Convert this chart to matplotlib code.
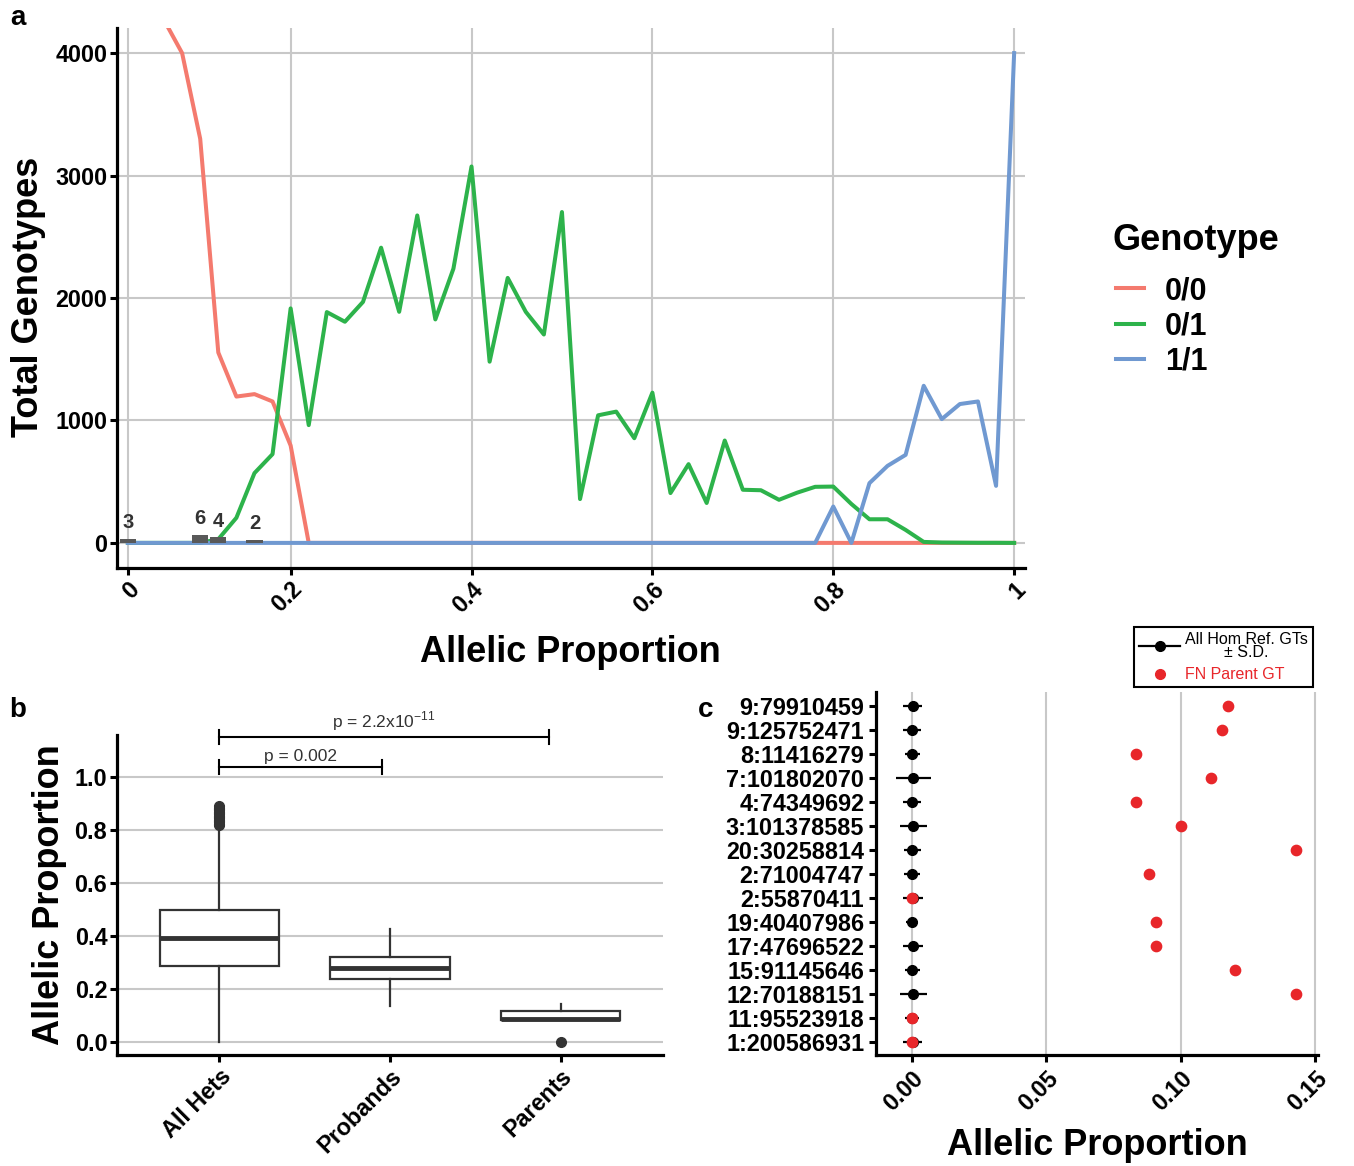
import numpy as np
import matplotlib
matplotlib.use('Agg')
import matplotlib.pyplot as plt
from matplotlib.lines import Line2D

plt.rcParams['font.family'] = ['Liberation Sans', 'DejaVu Sans']
plt.rcParams['font.weight'] = 'bold'
plt.rcParams['axes.labelweight'] = 'bold'

# ---- panel a data (allelic proportion bins, discrete axis) ----
props = [0, 0.04, 0.06, 0.08, 0.10, 0.12, 0.14, 0.16, 0.18, 0.20,
         0.22, 0.24, 0.26, 0.28, 0.30, 0.32, 0.34, 0.36, 0.38, 0.40,
         0.42, 0.44, 0.46, 0.48, 0.50, 0.52, 0.54, 0.56, 0.58, 0.60,
         0.62, 0.64, 0.66, 0.68, 0.70, 0.72, 0.74, 0.76, 0.78, 0.80,
         0.82, 0.84, 0.86, 0.88, 0.90, 0.92, 0.94, 0.96, 0.98, 1.00]
tick_props = [0, 0.2, 0.4, 0.6, 0.8, 1.0]
tick_names = ['0', '0.2', '0.4', '0.6', '0.8', '1']

gt_00 = [250000, 9000, 4270, 4000, 3300, 1555, 1195, 1215, 1155, 795,
         0, 0, 0, 0, 0, 0, 0, 0, 0, 0,
         0, 0, 0, 0, 0, 0, 0, 0, 0, 0,
         0, 0, 0, 0, 0, 0, 0, 0, 0, 0,
         0, 0, 0, 0, 0, 0, 0, 0, 0, 0]
gt_01 = [0, 0, 0, 0, 0, 30, 205, 570, 725, 1915,
         962, 1885, 1806, 1968, 2411, 1887, 2674, 1825, 2240, 3074,
         1480, 2164, 1887, 1702, 2702, 358, 1042, 1072, 855, 1227,
         407, 643, 326, 836, 434, 430, 352, 410, 458, 460,
         318, 193, 193, 106, 8, 3, 2, 1, 1, 0]
gt_11 = [0, 0, 0, 0, 0, 0, 0, 0, 0, 0,
         0, 0, 0, 0, 0, 0, 0, 0, 0, 0,
         0, 0, 0, 0, 0, 0, 0, 0, 0, 0,
         0, 0, 0, 0, 0, 0, 0, 0, 0, 297,
         0, 488, 629, 719, 1283, 1011, 1134, 1155, 466, 4000]

bar_props = [0, 0.10, 0.12, 0.16]
bar_heights = [35, 65, 45, 22]
bar_labels = ['3', '6', '4', '2']

# ---- panel b data ----
groups = ['All Hets', 'Probands', 'Parents']
box_q1 = [0.287, 0.239, 0.082]
box_med = [0.391, 0.280, 0.088]
box_q3 = [0.499, 0.322, 0.116]
box_lo = [0.0, 0.135, 0.082]
box_hi = [0.815, 0.427, 0.141]
fliers_hets = [0.82, 0.825, 0.83, 0.835, 0.84, 0.845, 0.85, 0.855, 0.86,
               0.865, 0.87, 0.875, 0.88, 0.885, 0.89]
fliers_parents = [0.0]
pvals = ['p = 0.002', 'p = 2.2x10$^{\\mathregular{-11}}$']
bracket_end = [0.955, 1.93]
bracket_y = [1.038, 1.153]

# ---- panel c data ----
sites = ['1:200586931', '11:95523918', '12:70188151', '15:91145646',
         '17:47696522', '19:40407986', '2:55870411', '2:71004747',
         '20:30258814', '3:101378585', '4:74349692', '7:101802070',
         '8:11416279', '9:125752471', '9:79910459']
hom_mean = [0.0002, 0.0001, 0.0004, 0.0001, 0.0003, 0.0, 0.0003, 0.0001,
            0.0001, 0.0004, 0.0001, 0.0004, 0.0001, 0.0001, 0.0002]
hom_sd = [0.0036, 0.0026, 0.0050, 0.0028, 0.0038, 0.0022, 0.0038, 0.0029,
          0.0032, 0.0050, 0.0033, 0.0065, 0.0028, 0.0033, 0.0036]
fn_parent = [0.0, 0.0, 0.1428, 0.120, 0.0909, 0.0909, 0.0, 0.0881,
             0.1428, 0.0999, 0.0832, 0.1111, 0.0832, 0.1153, 0.1177]

red = '#F47A6E'
green = '#2DB34B'
blue = '#7099D1'
grid_c = '#C8C8C8'
dark = '#333333'
fn_red = '#E8262A'

W, H = 1354, 1166
fig = plt.figure(figsize=(W / 100, H / 100), dpi=100)


def style_axes(ax, pad=2):
    for s in ['top', 'right']:
        ax.spines[s].set_visible(False)
    for s in ['left', 'bottom']:
        ax.spines[s].set_linewidth(2.3)
        ax.spines[s].set_color('black')
    ax.tick_params(width=2.2, length=5, color='black', labelsize=16.8, pad=pad,
                   labelcolor='black')
    ax.set_axisbelow(True)


def rotate_xlabels(ax):
    for lab in ax.get_xticklabels():
        lab.set_rotation(45)
        lab.set_ha('right')
        lab.set_va('top')
        lab.set_rotation_mode('anchor')


# ================= panel a =================
ax = fig.add_axes([117 / W, 1 - 568 / H, 908 / W, 540 / H])
style_axes(ax)
idx = {p: i for i, p in enumerate(props)}
xi = np.arange(len(props))
ax.plot(xi, gt_00, color=red, lw=2.9, label='0/0', zorder=3)
ax.plot(xi, gt_01, color=green, lw=2.9, label='0/1', zorder=3)
ax.plot(xi, gt_11, color=blue, lw=2.9, label='1/1', zorder=3)
bx = [idx[p] for p in bar_props]
ax.bar(bx, bar_heights, width=0.9, color='#595959', zorder=4)
for x, h, t in zip(bx, bar_heights, bar_labels):
    ax.text(x, h + 55, t, ha='center', va='bottom', fontsize=14.5,
            color=dark, zorder=5)
ax.set_xlim(-0.6, len(props) - 0.4)
ax.set_ylim(-205, 4205)
ax.set_yticks([0, 1000, 2000, 3000, 4000])
ax.set_xticks([idx[p] for p in tick_props])
ax.set_xticklabels(tick_names)
rotate_xlabels(ax)
ax.grid(True, color=grid_c, lw=1.5)
ax.set_xlabel('Allelic Proportion', fontsize=26)
ax.xaxis.label.set_va('center')
ax.xaxis.set_label_coords(0.499, -0.156)
ax.set_ylabel('Total Genotypes', fontsize=26)
ax.yaxis.label.set_va('center')
ax.yaxis.set_label_coords(-0.097, 0.502)
fig.text(1113 / W, 1 - 240 / H, 'Genotype', fontsize=26, ha='left',
         va='center')
leg = ax.legend(loc='upper left',
                bbox_to_anchor=(1116 / W, 1 - 276 / H),
                bbox_transform=fig.transFigure, frameon=False,
                fontsize=22, handlelength=0.9,
                handletextpad=0.7, labelspacing=0.17,
                borderaxespad=0, borderpad=0)

# ================= panel b =================
ax = fig.add_axes([117 / W, 1 - 1055 / H, 546 / W, 320 / H])
style_axes(ax)
stats = []
for i in range(3):
    fl = fliers_hets if i == 0 else (fliers_parents if i == 2 else [])
    stats.append(dict(q1=box_q1[i], med=box_med[i], q3=box_q3[i],
                      whislo=box_lo[i], whishi=box_hi[i], fliers=fl,
                      label=groups[i]))
ax.bxp(stats, positions=[0, 1, 2], widths=0.7, patch_artist=True,
       showcaps=False,
       boxprops=dict(facecolor='white', edgecolor=dark, lw=1.6),
       medianprops=dict(color=dark, lw=3.5),
       whiskerprops=dict(color=dark, lw=1.6),
       flierprops=dict(marker='o', mfc=dark, mec=dark, ms=7))
for xe, yb, t in zip(bracket_end, bracket_y, pvals):
    ax.plot([0, xe], [yb, yb], color='black', lw=1.5, clip_on=False)
    ax.plot([0, 0], [yb - 0.027, yb + 0.027], color='black', lw=1.5,
            clip_on=False)
    ax.plot([xe, xe], [yb - 0.027, yb + 0.027], color='black', lw=1.5,
            clip_on=False)
    ax.text(xe / 2, yb + 0.013, t, ha='center', va='bottom', fontsize=12.5,
            fontweight='normal', color=dark, clip_on=False)
ax.set_xlim(-0.6, 2.6)
ax.set_ylim(-0.05, 1.16)
ax.set_yticks([0, 0.2, 0.4, 0.6, 0.8, 1.0])
ax.set_yticklabels(['0.0', '0.2', '0.4', '0.6', '0.8', '1.0'])
ax.set_xticks([0, 1, 2])
ax.set_xticklabels(groups)
rotate_xlabels(ax)
ax.grid(True, axis='y', color=grid_c, lw=1.5)
ax.set_ylabel('Allelic Proportion', fontsize=26)
ax.yaxis.label.set_va('center')
ax.yaxis.set_label_coords(-0.124, 0.5)

# ================= panel c =================
ax = fig.add_axes([876 / W, 1 - 1055 / H, 442 / W, 363 / H])
style_axes(ax, pad=3.5)
yi = np.arange(len(sites))
ax.errorbar(hom_mean, yi, xerr=hom_sd, fmt='o', color='black', ms=7,
            elinewidth=1.6, capsize=0, zorder=3)
ax.scatter(fn_parent, yi, color=fn_red, s=55, zorder=4)
ax.set_xlim(-0.0134, 0.151)
ax.set_ylim(-0.55, len(sites) - 0.4)
ax.set_yticks(yi)
ax.set_yticklabels(sites)
ax.set_xticks([0, 0.05, 0.10, 0.15])
ax.set_xticklabels(['0.00', '0.05', '0.10', '0.15'])
rotate_xlabels(ax)
ax.grid(True, axis='x', color=grid_c, lw=1.5)
ax.set_xlabel('Allelic Proportion', fontsize=26)
ax.xaxis.label.set_va('center')
ax.xaxis.set_label_coords(0.5, -0.25)

h = [Line2D([], [], color='black', marker='o', ms=7, lw=1.6),
     Line2D([], [], color=fn_red, marker='o', ls='none', ms=7)]
legc = ax.legend(h, ['All Hom Ref. GTs\n\u00b1 S.D.', 'FN Parent GT'],
                 loc='upper left', bbox_to_anchor=(1134 / W, 1 - 627 / H),
                 bbox_transform=fig.transFigure, fancybox=False,
                 edgecolor='black', framealpha=1,
                 handlelength=2.6, handletextpad=0.3, labelspacing=0.45,
                 borderpad=0.3, borderaxespad=0,
                 prop=dict(family=['Liberation Sans'], weight='normal',
                           size=11.5))
legc.get_frame().set_linewidth(1.5)
t0, t1 = legc.get_texts()
t0.set_multialignment('center')
t0.set_linespacing(0.85)
t1.set_color(fn_red)

# panel letters
fig.text(18 / W, 1 - 18 / H, 'a', fontsize=20, ha='center', va='center')
fig.text(18 / W, 1 - 710 / H, 'b', fontsize=20, ha='center', va='center')
fig.text(706 / W, 1 - 710 / H, 'c', fontsize=20, ha='center', va='center')

fig.savefig('out.png', dpi=100)
